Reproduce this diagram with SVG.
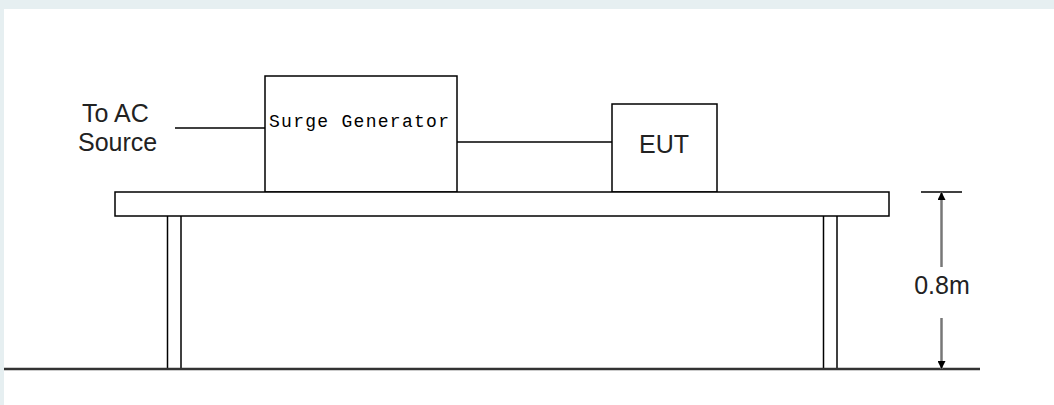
<svg xmlns="http://www.w3.org/2000/svg" width="1054" height="405" viewBox="0 0 1054 405">
<style>
.ln{stroke:#000;stroke-width:1.5;fill:none}
.bx{stroke:#000;stroke-width:1.5;fill:#fff}
.sans{font-family:"Liberation Sans",Arial,sans-serif;font-size:25px;fill:#222}
.mono{font-family:"Liberation Mono","DejaVu Sans Mono",monospace;font-size:18px;fill:#000}
.dim{stroke:#777;stroke-width:2.5;fill:none}
</style>
<defs>
<marker id="ah" viewBox="0 0 10 10" refX="10" refY="5" markerWidth="8" markerHeight="8" markerUnits="userSpaceOnUse" orient="auto">
<path d="M0,0 L10,5 L0,10 Z" fill="#000"/>
</marker>
</defs>
<rect x="0" y="0" width="1054" height="405" fill="#e6eff1"/>
<rect x="4" y="9" width="1050" height="396" fill="#fff"/>
<g id="connectors">
<line class="ln" x1="175" y1="128" x2="265" y2="128"/>
<line class="ln" x1="457" y1="142" x2="612" y2="142"/>
</g>
<g id="source-label">
<text class="sans" x="82" y="122">To AC</text>
<text class="sans" x="78" y="151">Source</text>
</g>
<g id="surge-generator">
<rect class="bx" x="265" y="76" width="192" height="116"/>
<text class="mono" x="269" y="127" textLength="180" lengthAdjust="spacing">Surge Generator</text>
</g>
<g id="eut">
<rect class="bx" x="612" y="104" width="105" height="88"/>
<text class="sans" x="664" y="153" text-anchor="middle">EUT</text>
</g>
<g id="table">
<rect class="bx" x="115" y="192" width="774" height="24"/>
<line class="ln" x1="167.5" y1="216" x2="167.5" y2="369"/>
<line class="ln" x1="181" y1="216" x2="181" y2="369"/>
<line class="ln" x1="823.5" y1="216" x2="823.5" y2="369"/>
<line class="ln" x1="837" y1="216" x2="837" y2="369"/>
</g>
<g id="ground">
<line x1="4" y1="369" x2="980" y2="369" stroke="#333" stroke-width="2.5"/>
</g>
<g id="dimension">
<line class="ln" x1="921" y1="192" x2="962" y2="192"/>
<line class="dim" x1="941.5" y1="267" x2="941.5" y2="192" marker-end="url(#ah)"/>
<line class="dim" x1="941.5" y1="318" x2="941.5" y2="369" marker-end="url(#ah)"/>
<text class="sans" x="942" y="294" text-anchor="middle">0.8m</text>
</g>
</svg>
